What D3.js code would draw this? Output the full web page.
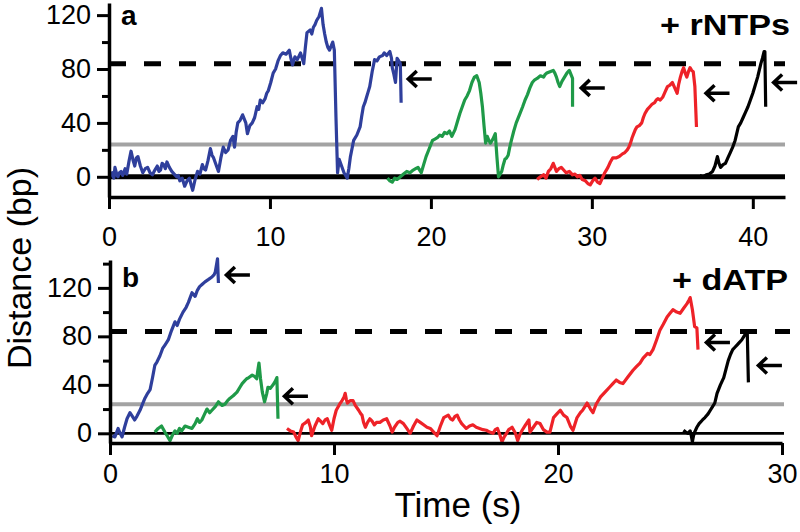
<!DOCTYPE html>
<html>
<head>
<meta charset="utf-8">
<script src="https://cdn.jsdelivr.net/npm/d3@7"></script>
<style>
  body { margin: 0; background: #fff; }
  text { font-family: "Liberation Sans", Arial, sans-serif; }
</style>
</head>
<body>
<div id="chart"></div>
<script>
// traces: [time (s), distance (bp)]
var aBlue = [[0,-2],[0.1,2],[0.2,3],[0.3,-1],[0.37,7],[0.5,1],[0.56,0],[0.65,3],[0.75,4],[0.85,1],[1.0,6],[1.1,2],[1.25,12],[1.37,19],[1.5,12],[1.6,8],[1.7,14],[1.8,15],[1.95,8],[2.1,3],[2.25,6],[2.4,7],[2.55,3],[2.7,1.5],[2.85,5],[3.0,8],[3.1,4],[3.2,5],[3.3,10],[3.4,9],[3.5,6],[3.6,11],[3.75,7],[3.9,4],[4.05,2],[4.2,0],[4.3,1],[4.4,-3],[4.55,-1],[4.7,-7],[4.85,-3],[5.0,-1],[5.1,-6],[5.2,-10],[5.35,-2],[5.5,4],[5.65,2],[5.8,9],[5.9,6],[6.0,5],[6.15,12],[6.3,21],[6.4,16],[6.5,14],[6.65,9],[6.8,4],[6.95,14],[7.1,22],[7.25,18],[7.4,20],[7.55,27],[7.7,30],[7.8,22],[7.9,33],[8.0,40],[8.15,42],[8.3,46],[8.4,43],[8.5,40],[8.6,32],[8.75,38],[8.9,40],[9.05,44],[9.2,52],[9.3,50],[9.4,57],[9.55,55],[9.7,58],[9.8,62],[9.9,64],[10.05,70],[10.2,77],[10.35,80],[10.5,86],[10.65,90],[10.8,92],[11.0,91],[11.2,94],[11.3,88],[11.4,83],[11.55,89],[11.7,87],[11.9,92],[12.0,88],[12.1,84],[12.2,96],[12.3,107],[12.5,109],[12.6,106],[12.7,111],[12.8,113],[12.9,116],[13.05,119],[13.2,125],[13.3,113],[13.4,106],[13.5,100],[13.6,96],[13.7,94],[13.8,97],[13.9,100],[14.0,94],[14.1,45],[14.2,3],[14.3,13],[14.45,8],[14.6,3],[14.8,-1],[14.9,6],[15.0,15],[15.1,21],[15.2,27],[15.4,31],[15.6,37],[15.7,45],[15.8,52],[15.9,55],[16.0,59],[16.1,63],[16.2,67],[16.35,78],[16.5,87],[16.65,86],[16.8,89],[17.0,90],[17.1,92],[17.25,90],[17.45,93],[17.55,88],[17.6,81],[17.7,76],[17.8,70],[17.9,88],[18.0,86],[18.1,84],[18.15,55]];
var aGreen = [[17.3,-1],[17.45,-3],[17.6,-4],[17.75,-1],[17.9,-2],[18.1,0],[18.3,2],[18.5,4],[18.7,3],[18.9,5],[19.05,6],[19.2,7],[19.3,5],[19.4,3],[19.55,9],[19.7,15],[19.9,21],[20.1,27],[20.25,28],[20.4,29],[20.55,31],[20.7,30],[20.85,33],[21.0,32],[21.15,34],[21.3,30],[21.5,35],[21.65,41],[21.8,47],[21.95,52],[22.1,57],[22.25,60],[22.4,64],[22.55,70],[22.7,74],[22.85,75],[23.0,70],[23.1,62],[23.2,52],[23.3,38],[23.4,25],[23.5,30],[23.6,27],[23.7,25],[23.85,28],[24.0,32],[24.1,15],[24.2,0],[24.3,2],[24.4,4],[24.5,9],[24.6,13],[24.7,14],[24.8,16],[24.9,22],[25.0,27],[25.15,34],[25.3,40],[25.5,46],[25.7,52],[25.85,57],[26.0,61],[26.15,66],[26.3,70],[26.45,72],[26.6,73],[26.8,75],[27.0,74],[27.1,76],[27.2,77],[27.4,78],[27.6,79],[27.7,77],[27.8,74],[27.9,70],[28.0,67],[28.15,71],[28.3,74],[28.45,77],[28.6,79],[28.7,76],[28.8,73],[28.8,52]];
var aRed = [[26.6,-2],[26.8,0],[27.0,1.5],[27.15,-1],[27.3,4],[27.45,6],[27.6,10],[27.7,7],[27.8,4],[27.95,6],[28.1,7],[28.25,5],[28.4,3],[28.6,4],[28.8,1.5],[28.95,2],[29.1,0],[29.25,1],[29.4,-2],[29.6,-3],[29.75,-5],[29.9,-6],[30.05,-3],[30.2,-1],[30.35,-4],[30.5,-5],[30.65,-1],[30.8,3],[30.9,5],[31.0,7],[31.15,11],[31.3,14],[31.5,14],[31.7,15],[31.9,17],[32.05,18],[32.2,20],[32.3,22],[32.4,25],[32.5,29],[32.6,32],[32.7,35],[32.8,37],[32.95,38],[33.1,40],[33.2,44],[33.3,47],[33.45,50],[33.6,52],[33.75,54],[33.9,55],[34.0,57],[34.1,58],[34.25,57],[34.4,59],[34.55,63],[34.7,67],[34.85,68],[35.0,70],[35.15,66],[35.3,62],[35.4,69],[35.5,74],[35.6,78],[35.7,81],[35.8,77],[35.9,74],[36.0,78],[36.1,81],[36.2,79],[36.3,78],[36.4,67],[36.45,52],[36.5,37]];
var aBlack = [[36.7,1],[36.9,0],[37.1,1.5],[37.3,2],[37.5,4],[37.65,8],[37.8,15],[37.9,10],[38.0,7],[38.15,9],[38.3,10],[38.45,14],[38.6,18],[38.75,22],[38.9,27],[39.0,32],[39.1,37],[39.25,40],[39.4,44],[39.55,48],[39.7,52],[39.85,57],[40.0,62],[40.15,68],[40.3,74],[40.4,79],[40.5,84],[40.6,88],[40.7,93],[40.75,93],[40.8,52]];

var bBlue = [[0.1,-2],[0.22,-3],[0.3,1],[0.36,4],[0.45,0],[0.54,-3],[0.65,5],[0.76,12],[0.89,17],[1.0,14],[1.1,11],[1.2,14],[1.34,19],[1.45,24],[1.56,29],[1.68,33],[1.79,36],[1.9,46],[2.0,56],[2.1,59],[2.23,64],[2.35,70],[2.46,73],[2.6,77],[2.75,85],[2.9,92],[3.0,89],[3.1,94],[3.26,100],[3.4,104],[3.5,108],[3.6,113],[3.66,116],[3.8,113],[3.9,118],[4.0,121],[4.12,123],[4.24,125],[4.4,127],[4.55,129],[4.65,131],[4.7,133],[4.8,144],[4.84,124]];
var bGreen = [[2.0,1],[2.15,4],[2.3,6],[2.45,1],[2.55,-2],[2.68,-6],[2.8,-1],[2.9,2],[3.0,0],[3.1,4],[3.2,2],[3.35,6],[3.5,5],[3.66,4],[3.8,8],[3.9,12],[4.0,9],[4.1,11],[4.2,15],[4.33,20],[4.45,17],[4.55,19],[4.7,22],[4.84,26],[5.0,23],[5.13,24],[5.25,27],[5.36,29],[5.5,31],[5.67,34],[5.8,38],[5.9,41],[6.0,43],[6.1,45],[6.2,46],[6.35,48],[6.45,47],[6.55,45],[6.6,52],[6.65,58],[6.72,45],[6.8,34],[6.9,26],[7.0,33],[7.05,38],[7.15,37],[7.28,40],[7.38,43],[7.45,46],[7.5,12]];
var bRed = [[7.9,4],[8.05,2],[8.2,1],[8.3,-3],[8.4,-6],[8.5,1],[8.6,7],[8.75,9],[8.85,11],[8.95,5],[9.0,-2],[9.15,6],[9.3,12],[9.4,10],[9.5,8],[9.6,11],[9.7,12],[9.8,7],[9.9,2.5],[10.0,12],[10.1,19],[10.25,24],[10.36,27],[10.45,30],[10.5,33],[10.55,28],[10.6,25],[10.72,27],[10.85,27],[10.95,23],[11.1,19],[11.2,16],[11.25,15],[11.32,9],[11.4,5],[11.5,9],[11.6,12],[11.7,10],[11.8,7],[11.9,9],[12.05,9],[12.2,11],[12.35,12],[12.5,6],[12.6,1],[12.7,5],[12.85,9],[12.95,10],[13.1,8],[13.25,4],[13.4,0],[13.55,6],[13.7,11],[13.85,9],[14.0,7],[14.15,5],[14.3,4],[14.45,1],[14.6,-2],[14.75,6],[14.9,13],[15.0,14],[15.1,15],[15.2,12],[15.3,11],[15.4,14],[15.5,15],[15.6,11],[15.7,8],[15.8,6],[15.9,4],[16.05,6],[16.2,7],[16.35,5],[16.5,4],[16.65,3],[16.8,2.5],[16.95,1],[17.1,0],[17.2,3],[17.3,4],[17.4,-1],[17.5,-7],[17.6,-3],[17.7,0],[17.8,3],[17.95,5],[18.1,0],[18.2,-6],[18.3,-1],[18.4,2.5],[18.55,7],[18.7,11],[18.75,1],[18.9,5],[19.05,9],[19.2,8],[19.35,3],[19.5,1],[19.64,1],[19.8,13],[19.95,16],[20.1,19],[20.25,15],[20.4,13],[20.55,6],[20.67,2.5],[20.85,13],[21.0,17],[21.1,19],[21.2,22],[21.3,25],[21.45,20],[21.56,17],[21.7,24],[21.9,30],[22.1,34],[22.3,38],[22.45,41],[22.6,44],[22.75,42],[22.9,41],[23.1,46],[23.35,52],[23.5,55],[23.66,58],[23.8,62],[24.0,66],[24.1,65],[24.24,69],[24.4,77],[24.55,85],[24.7,90],[24.87,96],[25.0,99],[25.13,102],[25.3,100],[25.45,99],[25.6,103],[25.76,107],[25.85,110],[25.9,112],[26.0,102],[26.1,88],[26.2,87],[26.25,69]];
var bBlack = [[25.6,2.5],[25.7,1],[25.8,0],[25.9,2],[25.95,-2],[26.0,-7],[26.05,-2],[26.1,1],[26.2,5],[26.3,8],[26.45,11],[26.56,13],[26.7,16],[26.8,19],[26.9,22],[27.0,25],[27.1,33],[27.25,40],[27.4,46],[27.5,53],[27.6,60],[27.7,65],[27.8,69],[27.9,71],[28.0,73],[28.1,75],[28.2,77],[28.3,80],[28.4,83],[28.45,83],[28.5,42]];

// arrow tips [time, distance]
var aArrows = [[18.5,72.6],[29.25,66],[37.0,62],[41.2,70]];
var bArrows = [[5.13,130.6],[7.72,30.6],[26.56,75],[28.88,56]];

// reference levels (bp)
var baseLevel = 0;
var grayLevel = 24;
var dashLevel = 84;

var aXTicks = [0,10,20,30,40];
var bXTicks = [0,10,20,30];
var aYMajor = [0,40,80,120];
var aYMinor = [20,60,100];
var bYMajor = [0,40,80,120];
var bYMinor = [20,60,100,140];

var traceColors = ["#2f3f9c","#1f9a48","#ee2228","#000000"];

var svgWidth = 800;
var svgHeight = 532;

var svg = d3.select("#chart")
  .append("svg")
  .attr("width", svgWidth)
  .attr("height", svgHeight);

function drawPanel(p) {
  var x = d3.scaleLinear().domain(p.xDomain).range([p.left, p.right]);
  var y = d3.scaleLinear().domain(p.yDomain).range([p.bottom, p.top]);
  var g = svg.append("g");

  // reference lines
  g.append("line")
    .attr("x1", x(0)).attr("x2", p.lineEnd)
    .attr("y1", y(grayLevel)).attr("y2", y(grayLevel))
    .attr("stroke", "#a3a3a3").attr("stroke-width", 4);

  g.append("line")
    .attr("x1", x(0)).attr("x2", p.lineEnd)
    .attr("y1", y(baseLevel)).attr("y2", y(baseLevel))
    .attr("stroke", "#000").attr("stroke-width", p.baseWidth);

  g.append("line")
    .attr("x1", x(0)).attr("x2", p.dashEnd)
    .attr("y1", y(dashLevel)).attr("y2", y(dashLevel))
    .attr("stroke", "#000").attr("stroke-width", 5)
    .attr("stroke-dasharray", "17,18");

  // traces
  var line = d3.line().x(d => x(d[0])).y(d => y(d[1]));
  p.traces.forEach(function(tr, i) {
    g.append("path")
      .datum(tr)
      .attr("d", line)
      .attr("fill", "none")
      .attr("stroke", traceColors[i])
      .attr("stroke-width", 3.2)
      .attr("stroke-linejoin", "round");
  });

  // arrows
  g.selectAll(".arrow")
    .data(p.arrows)
    .enter()
    .append("path")
    .attr("d", function(d) {
      var px = x(d[0]), py = y(d[1]);
      return "M" + (px + 25) + "," + py + "H" + (px + 1.5) +
        "M" + (px + 10) + "," + (py - 8) + "L" + (px + 1.5) + "," + py + "L" + (px + 10) + "," + (py + 8);
    })
    .attr("fill", "none")
    .attr("stroke", "#000")
    .attr("stroke-width", 3.5);

  // axes
  var xAxis = g.append("g")
    .attr("transform", `translate(0,${p.bottom})`)
    .call(d3.axisBottom(x).tickValues(p.xTicks).tickSize(12).tickSizeOuter(0).tickPadding(p.xPad));

  var yAxis = g.append("g")
    .attr("transform", `translate(${p.left},0)`)
    .call(d3.axisLeft(y).tickValues(p.yMajor).tickSize(12).tickSizeOuter(0).tickPadding(6));

  var yMinor = g.append("g")
    .attr("transform", `translate(${p.left},0)`)
    .call(d3.axisLeft(y).tickValues(p.yMinor).tickSize(7).tickFormat(""));
  yMinor.select(".domain").remove();

  g.selectAll(".domain").attr("stroke-width", 3.5);
  g.selectAll(".tick line").attr("stroke-width", 3);
  g.selectAll(".tick text")
    .attr("font-size", "27px")
    .attr("font-family", "'Liberation Sans', Arial, sans-serif")
    .attr("fill", "#000");

  // panel letter and condition label
  g.append("text")
    .attr("x", p.left + 12).attr("y", p.letterY)
    .attr("font-size", "28px").attr("font-weight", "bold")
    .text(p.letter);

  g.append("text")
    .attr("x", p.condX).attr("y", p.condY)
    .attr("font-size", "29px").attr("font-weight", "bold")
    .attr("textLength", p.condLen)
    .attr("lengthAdjust", "spacingAndGlyphs")
    .text(p.cond);
}

drawPanel({
  xDomain: [0, 42], yDomain: [-15, 129],
  left: 109, right: 785, top: 3, bottom: 197,
  lineEnd: 785, dashEnd: 785, baseWidth: 5, xPad: 18,
  traces: [aBlue, aGreen, aRed, aBlack], arrows: aArrows,
  xTicks: aXTicks, yMajor: aYMajor, yMinor: aYMinor,
  letter: "a", letterY: 25,
  cond: "+ rNTPs", condX: 660, condY: 35, condLen: 130
});

drawPanel({
  xDomain: [0, 30], yDomain: [-8, 143],
  left: 110, right: 782, top: 260, bottom: 443,
  lineEnd: 784, dashEnd: 790, baseWidth: 2.8, xPad: 9,
  traces: [bBlue, bGreen, bRed, bBlack], arrows: bArrows,
  xTicks: bXTicks, yMajor: bYMajor, yMinor: bYMinor,
  letter: "b", letterY: 287,
  cond: "+ dATP", condX: 672, condY: 290, condLen: 116
});

// axis titles
svg.append("text")
  .attr("transform", "translate(31,268) rotate(-90)")
  .attr("text-anchor", "middle")
  .attr("font-size", "34px")
  .text("Distance (bp)");

svg.append("text")
  .attr("x", 458).attr("y", 517)
  .attr("text-anchor", "middle")
  .attr("font-size", "35px")
  .text("Time (s)");
</script>
</body>
</html>
